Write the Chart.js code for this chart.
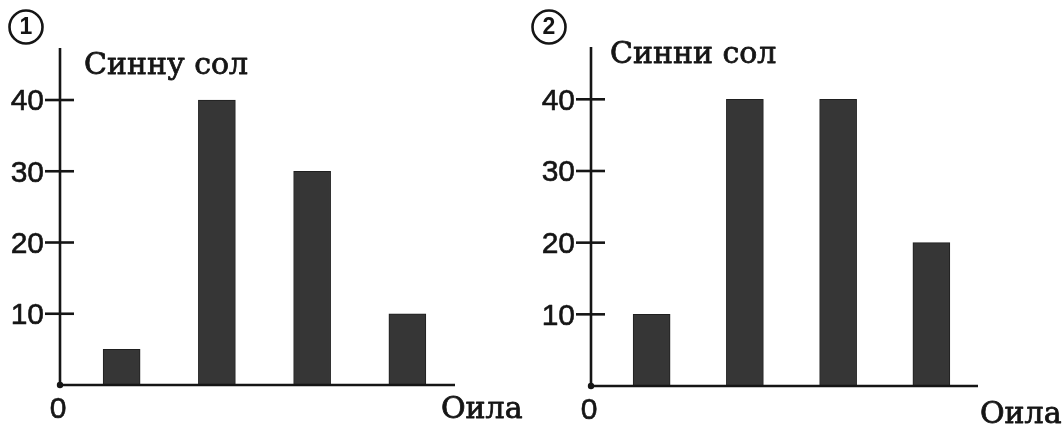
<!DOCTYPE html>
<html>
<head>
<meta charset="utf-8">
<script src="https://cdn.jsdelivr.net/npm/chart.js@4/dist/chart.umd.min.js"></script>
<style>
  html, body { margin: 0; padding: 0; background: #ffffff; }
  #wrap { position: relative; width: 1062px; height: 430px; overflow: hidden; background: #fff; }
  canvas { position: absolute; top: 0; }
</style>
</head>
<body>
<div id="wrap">
  <canvas id="c1" width="531" height="430" style="left:0px"></canvas>
  <canvas id="c2" width="531" height="430" style="left:531px"></canvas>
</div>
<script>
// ---- data ----
const categories = ['1', '2', '3', '4'];
const valuesPanel1 = [5, 40, 30, 10];
const valuesPanel2 = [10, 40, 40, 20];
const yTicks = [10, 20, 30, 40];
const originLabel = '0';
const yTitle1 = 'Синну сол';
const yTitle2 = 'Синни сол';
const xTitle = 'Оила';
const panelNumbers = ['1', '2'];

// ---- drawing ----
const INK = '#151515';
const BAR = '#363636';
const Y_MAX = 47.3;

function heavyText(ctx, txt, x, y, w) {
  ctx.fillText(txt, x, y);
  ctx.lineWidth = w;
  ctx.strokeText(txt, x, y);
}

function axisPlugin(cfg) {
  return {
    id: 'handAxes' + cfg.num,
    afterDatasetsDraw(chart) {
      const ctx = chart.ctx;
      const y = chart.scales.y;
      const area = chart.chartArea;
      const ax = area.left - 14;
      const y0 = y.getPixelForValue(0);
      const yTop = y.getPixelForValue(Y_MAX);
      ctx.save();
      ctx.strokeStyle = INK;
      ctx.fillStyle = INK;
      ctx.lineJoin = 'round';
      ctx.lineWidth = 2.6;
      ctx.lineCap = 'butt';
      // y axis
      ctx.beginPath();
      ctx.moveTo(ax, yTop);
      ctx.lineTo(ax, y0);
      ctx.stroke();
      // x axis
      ctx.beginPath();
      ctx.moveTo(ax - 1, y0);
      ctx.lineTo(area.right, y0);
      ctx.stroke();
      // origin dot
      ctx.beginPath();
      ctx.arc(ax, y0, 3.2, 0, Math.PI * 2);
      ctx.fill();
      // ticks + labels
      ctx.font = '30px "Liberation Sans", Arial, sans-serif';
      ctx.textAlign = 'right';
      ctx.textBaseline = 'middle';
      yTicks.forEach(v => {
        const py = y.getPixelForValue(v);
        ctx.lineWidth = 2.6;
        ctx.beginPath();
        ctx.moveTo(ax - 15, py);
        ctx.lineTo(ax + 14, py);
        ctx.stroke();
        heavyText(ctx, String(v), ax - 16, py + 2, 0.6);
      });
      // origin label
      ctx.textAlign = 'center';
      ctx.textBaseline = 'alphabetic';
      heavyText(ctx, originLabel, ax - 2, y0 + 33, 0.6);
      // axis titles
      ctx.font = '30px "DejaVu Serif", "Liberation Serif", serif';
      ctx.textAlign = 'left';
      heavyText(ctx, cfg.yTitle, cfg.yTitleX, cfg.yTitleY, 0.8);
      heavyText(ctx, xTitle, cfg.xTitleX, cfg.xTitleY, 0.8);
      // circled number
      ctx.lineWidth = 2.6;
      ctx.beginPath();
      ctx.arc(cfg.cx, cfg.cy, 16.5, 0, Math.PI * 2);
      ctx.stroke();
      ctx.font = 'bold 23px "Liberation Sans", Arial, sans-serif';
      ctx.textAlign = 'center';
      ctx.textBaseline = 'middle';
      ctx.fillText(cfg.num, cfg.cx, cfg.cy + 1);
      ctx.restore();
    }
  };
}

function makePanel(id, values, cfg) {
  return new Chart(document.getElementById(id), {
    type: 'bar',
    data: {
      labels: categories,
      datasets: [{
        data: values,
        backgroundColor: BAR,
        borderColor: '#1f1f1f',
        borderWidth: 1,
        barThickness: 37
      }]
    },
    options: {
      responsive: false,
      animation: false,
      events: [],
      layout: { padding: { left: 74, right: cfg.padRight, top: cfg.padTop, bottom: cfg.padBottom } },
      plugins: { legend: { display: false }, tooltip: { enabled: false }, title: { display: false } },
      scales: {
        x: { display: false },
        y: { display: false, min: 0, max: Y_MAX }
      }
    },
    plugins: [axisPlugin(cfg)]
  });
}

makePanel('c1', valuesPanel1, {
  num: panelNumbers[0], padRight: 76, padTop: 48, padBottom: 45,
  yTitle: yTitle1, yTitleX: 84, yTitleY: 74,
  xTitleX: 441, xTitleY: 418,
  cx: 26, cy: 27
});
makePanel('c2', valuesPanel2, {
  num: panelNumbers[1], padRight: 84, padTop: 47, padBottom: 44,
  yTitle: yTitle2, yTitleX: 79, yTitleY: 63,
  xTitleX: 449, xTitleY: 423,
  cx: 18, cy: 27
});
</script>
</body>
</html>
